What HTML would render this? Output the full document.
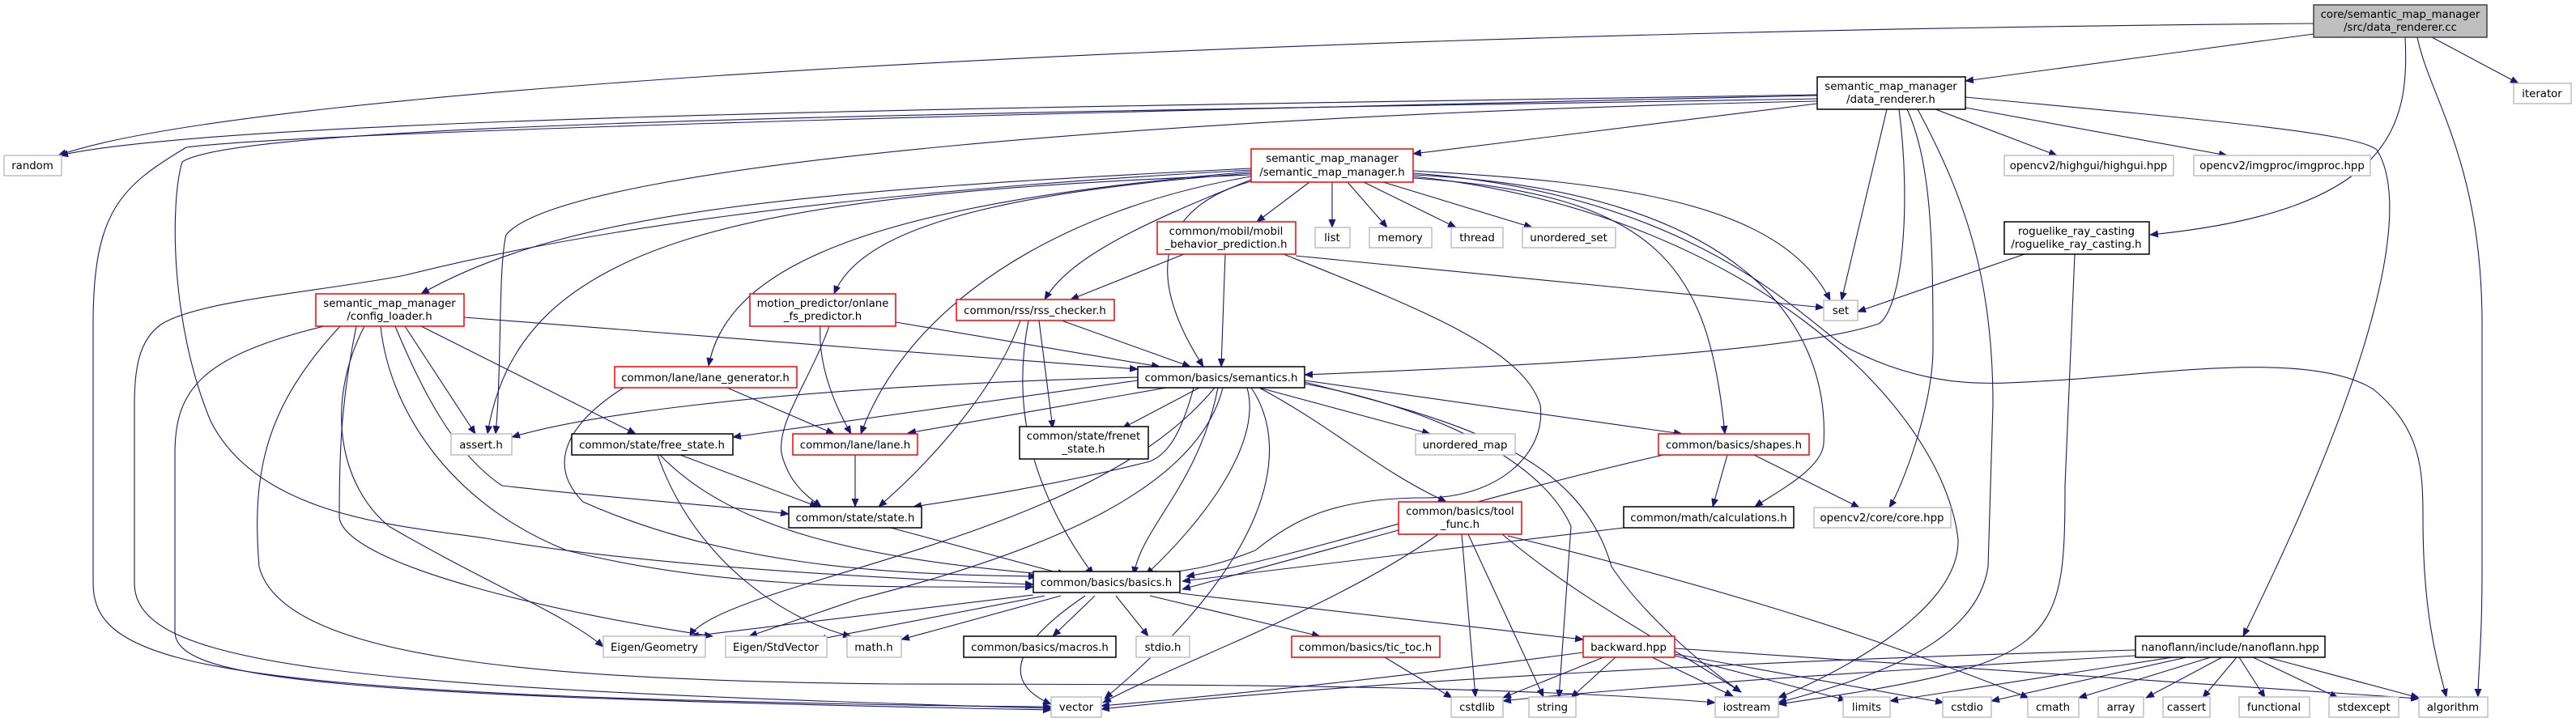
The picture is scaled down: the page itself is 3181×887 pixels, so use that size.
<!DOCTYPE html>
<html><head><meta charset="utf-8"><style>
html,body{margin:0;padding:0;background:#fff;width:3181px;height:887px;overflow:hidden}
svg text{font-family:"DejaVu Sans","Liberation Sans",sans-serif;font-size:13.3px;fill:#000}
</style></head><body>
<svg width="3181" height="887" viewBox="0 0 3181 887" xmlns="http://www.w3.org/2000/svg">
<defs><marker id="a" markerWidth="11" markerHeight="9" refX="10" refY="4.5" orient="auto" markerUnits="userSpaceOnUse"><path d="M0,0 L11,4.5 L0,9 z" fill="#191970"/></marker></defs>
<g fill="none" stroke="#191970" stroke-width="1.1" marker-end="url(#a)">
<path d="M2857,42 L2427,100"/>
<path d="M2857,29 C1500,40 300,110 72,192"/>
<path d="M3003,46 L3110,103"/>
<path d="M2970,46 C2975,150 2960,260 2655,290"/>
<path d="M2985,46 C3000,120 3065,200 3065,400 L3065,700 C3065,800 3060,830 3060,861"/>
<path d="M2500,314 L2294,385"/>
<path d="M2562,314 L2550,600 C2550,800 2540,820 2196,870"/>
<path d="M2244,117 C1500,130 300,140 74,192"/>
<path d="M2390,135 L2540,192"/>
<path d="M2427,133 L2750,192"/>
<path d="M2330,135 L2274,371"/>
<path d="M2244,128 L1745,190"/>
<path d="M2427,120 C2750,150 2910,165 2935,185 C2970,240 2960,400 2770,786"/>
<path d="M2355,135 C2385,200 2387,300 2387,430 C2387,500 2350,600 2333,627"/>
<path d="M2368,135 C2430,250 2461,350 2461,500 L2455,700 C2440,800 2300,840 2196,868"/>
<path d="M2345,135 C2360,250 2350,380 2320,400 C2200,440 1800,455 1611,463"/>
<path d="M2244,125 C1500,140 700,200 625,290 C615,330 620,450 612,536"/>
<path d="M2244,122 C1200,140 300,150 225,200 C210,250 210,400 260,520 C320,640 500,650 600,665 C800,700 1100,715 1276,722"/>
<path d="M2244,118 C1500,135 400,160 230,182 C150,230 115,260 115,400 L115,720 C115,800 200,840 700,860 C900,868 1200,873 1298,873"/>
<path d="M1545,210 C1000,240 700,290 500,340 C400,360 250,370 200,400 C170,420 166,460 166,500 L166,720 C166,820 400,850 1298,875"/>
<path d="M400,403 C250,440 216,480 216,560 L216,780 C216,840 400,860 1298,877"/>
<path d="M420,403 C330,500 310,580 320,700 C350,820 700,840 1100,845 C1600,845 1900,850 2118,868"/>
<path d="M1617,225 L1552,274"/>
<path d="M1645,225 L1645,281"/>
<path d="M1664,225 L1713,281"/>
<path d="M1684,225 L1798,281"/>
<path d="M1708,225 L1892,281"/>
<path d="M1545,222 C1400,280 1320,320 1290,370"/>
<path d="M1545,224 C1450,250 1400,320 1486,453"/>
<path d="M1545,208 C1000,235 700,260 520,363"/>
<path d="M1545,214 C1200,240 1060,290 1030,363"/>
<path d="M1545,212 C1100,250 900,320 875,452"/>
<path d="M1545,218 C1300,260 1120,380 1063,536"/>
<path d="M1745,220 C2050,240 2110,330 2130,536"/>
<path d="M1745,216 C2150,235 2260,400 2252,548 C2250,580 2190,610 2167,626"/>
<path d="M1745,211 C2000,225 2200,250 2260,371"/>
<path d="M1745,214 C2100,240 2230,400 2282,430 C2380,480 2450,475 2519,471 C2650,465 2850,430 2931,481 C2990,530 2992,580 2992,640 C2992,760 3010,820 3021,861"/>
<path d="M1745,218 C2150,260 2400,500 2418,667 C2420,760 2250,840 2196,862"/>
<path d="M1545,216 C900,240 640,300 602,536"/>
<path d="M573,392 L1060,430 L1405,456"/>
<path d="M500,403 L587,536"/>
<path d="M520,403 L785,536"/>
<path d="M488,403 C520,480 560,560 620,600 C800,620 900,625 974,635"/>
<path d="M470,403 C480,500 550,620 700,680 C900,730 1100,725 1276,725"/>
<path d="M450,403 C400,500 420,600 480,650 C600,720 700,760 745,799"/>
<path d="M440,403 C420,500 419,570 419,640 C430,700 700,760 880,786"/>
<path d="M1106,398 L1432,453"/>
<path d="M1013,403 C1010,450 1030,500 1051,536"/>
<path d="M1024,403 C1000,470 960,520 965,560 C975,600 1000,615 1014,626"/>
<path d="M1311,396 L1470,453"/>
<path d="M1283,396 L1300,529"/>
<path d="M1260,396 C1230,480 1150,570 1085,626"/>
<path d="M1270,396 C1250,500 1270,600 1350,710"/>
<path d="M1462,314 L1322,370"/>
<path d="M1513,314 L1508,453"/>
<path d="M1600,316 L2252,380"/>
<path d="M1585,314 C1750,380 1880,430 1902,500 C1910,560 1850,615 1760,615 C1650,615 1600,640 1550,680 C1500,700 1470,705 1418,710"/>
<path d="M898,479 L1030,536"/>
<path d="M770,479 C690,530 680,580 720,620 C900,700 1100,710 1280,712"/>
<path d="M840,562 L1010,626"/>
<path d="M815,562 C900,650 1050,690 1300,710"/>
<path d="M812,562 C860,700 980,770 1051,786"/>
<path d="M1056,562 L1056,626"/>
<path d="M1100,652 L1316,710"/>
<path d="M1481,479 L1386,529"/>
<path d="M1440,479 L1121,535"/>
<path d="M1405,470 L905,540"/>
<path d="M1405,466 C900,480 700,520 632,540"/>
<path d="M1474,479 C1460,530 1445,560 1420,570 C1300,600 1200,615 1128,626"/>
<path d="M1504,479 C1480,600 1410,650 1400,710"/>
<path d="M1540,479 C1560,550 1480,650 1415,710"/>
<path d="M1555,479 L1766,536"/>
<path d="M1555,479 C1650,530 1700,580 1786,620"/>
<path d="M1611,470 L2077,536"/>
<path d="M1500,479 C1400,600 1200,660 1000,720 C900,750 860,770 852,786"/>
<path d="M1510,479 C1480,600 1300,680 1060,740 L925,786"/>
<path d="M1545,479 C1600,560 1560,700 1364,863"/>
<path d="M1611,474 C1750,500 1900,560 1940,650 L1925,862"/>
<path d="M1611,472 C1800,520 1950,560 1990,700 C2030,760 2100,820 2150,855"/>
<path d="M1727,655 L1460,728"/>
<path d="M1776,660 C1650,750 1450,820 1362,868"/>
<path d="M1805,660 L1822,861"/>
<path d="M1813,660 L1906,861"/>
<path d="M1855,660 C1950,740 2050,790 2150,855"/>
<path d="M1862,662 C2100,720 2300,780 2505,862"/>
<path d="M2054,562 C1800,620 1600,690 1465,712"/>
<path d="M2133,562 L2115,626"/>
<path d="M2166,562 L2296,627"/>
<path d="M2005,652 L1460,718"/>
<path d="M1276,735 L853,786"/>
<path d="M1290,736 L1010,790"/>
<path d="M1310,736 L1113,790"/>
<path d="M1352,736 L1300,786"/>
<path d="M1378,736 L1418,786"/>
<path d="M1420,736 L1630,786"/>
<path d="M1457,733 L1955,790"/>
<path d="M1340,736 C1260,790 1230,840 1298,870"/>
<path d="M1710,812 L1793,862"/>
<path d="M1955,806 C1700,840 1500,860 1360,872"/>
<path d="M1980,812 L1856,862"/>
<path d="M1995,812 L1940,862"/>
<path d="M2040,812 L2140,860"/>
<path d="M2068,810 L2280,865"/>
<path d="M2068,808 L2400,868"/>
<path d="M2068,801 L2987,863"/>
<path d="M2637,803 C2200,815 1700,840 1360,876"/>
<path d="M2637,810 C2300,830 2000,850 1856,866"/>
<path d="M2683,812 L2334,866"/>
<path d="M2700,812 L2459,866"/>
<path d="M2730,812 L2567,862"/>
<path d="M2744,812 L2650,862"/>
<path d="M2762,812 L2720,862"/>
<path d="M2765,812 L2797,862"/>
<path d="M2782,812 L2887,862"/>
<path d="M2800,812 L2987,862"/>
</g>
<g stroke-width="1.5" fill="#fff">
<rect x="2857" y="6" width="214" height="40" fill="#bfbfbf" stroke="#404040"/>
<rect x="2244" y="95" width="183" height="40" stroke="#000"/>
<rect x="3104" y="103" width="71" height="25" stroke="#bfbfbf"/>
<rect x="2475" y="192" width="209" height="25" stroke="#bfbfbf"/>
<rect x="2709" y="192" width="218" height="25" stroke="#bfbfbf"/>
<rect x="2475" y="274" width="179" height="40" stroke="#000"/>
<rect x="2252" y="371" width="42" height="25" stroke="#bfbfbf"/>
<rect x="5" y="192" width="71" height="25" stroke="#bfbfbf"/>
<rect x="390" y="363" width="183" height="40" stroke="#ff0000"/>
<rect x="926" y="363" width="180" height="40" stroke="#ff0000"/>
<rect x="1545" y="184" width="200" height="41" stroke="#ff0000"/>
<rect x="1429" y="274" width="171" height="40" stroke="#ff0000"/>
<rect x="1624" y="281" width="43" height="25" stroke="#bfbfbf"/>
<rect x="1691" y="281" width="77" height="25" stroke="#bfbfbf"/>
<rect x="1792" y="281" width="64" height="25" stroke="#bfbfbf"/>
<rect x="1880" y="281" width="115" height="25" stroke="#bfbfbf"/>
<rect x="1181" y="370" width="195" height="26" stroke="#ff0000"/>
<rect x="759" y="453" width="225" height="26" stroke="#ff0000"/>
<rect x="557" y="536" width="75" height="26" stroke="#bfbfbf"/>
<rect x="706" y="536" width="199" height="26" stroke="#000"/>
<rect x="979" y="536" width="154" height="26" stroke="#ff0000"/>
<rect x="974" y="626" width="164" height="26" stroke="#000"/>
<rect x="745" y="786" width="126" height="26" stroke="#bfbfbf"/>
<rect x="896" y="786" width="125" height="26" stroke="#bfbfbf"/>
<rect x="1046" y="786" width="67" height="26" stroke="#bfbfbf"/>
<rect x="1405" y="453" width="206" height="26" stroke="#000"/>
<rect x="1259" y="527" width="159" height="40" stroke="#000"/>
<rect x="1748" y="536" width="123" height="26" stroke="#bfbfbf"/>
<rect x="2048" y="536" width="186" height="26" stroke="#ff0000"/>
<rect x="1727" y="620" width="152" height="40" stroke="#ff0000"/>
<rect x="2005" y="626" width="210" height="26" stroke="#000"/>
<rect x="2240" y="627" width="169" height="25" stroke="#bfbfbf"/>
<rect x="1276" y="706" width="181" height="26" stroke="#000"/>
<rect x="1190" y="786" width="188" height="26" stroke="#000"/>
<rect x="1403" y="786" width="66" height="26" stroke="#bfbfbf"/>
<rect x="1595" y="786" width="183" height="26" stroke="#ff0000"/>
<rect x="1955" y="786" width="113" height="26" stroke="#ff0000"/>
<rect x="1298" y="861" width="62" height="25" stroke="#bfbfbf"/>
<rect x="1792" y="861" width="64" height="25" stroke="#bfbfbf"/>
<rect x="1888" y="861" width="58" height="25" stroke="#bfbfbf"/>
<rect x="2637" y="786" width="234" height="26" stroke="#000"/>
<rect x="2118" y="861" width="78" height="25" stroke="#bfbfbf"/>
<rect x="2276" y="861" width="58" height="25" stroke="#bfbfbf"/>
<rect x="2399" y="861" width="60" height="25" stroke="#bfbfbf"/>
<rect x="2504" y="861" width="63" height="25" stroke="#bfbfbf"/>
<rect x="2591" y="861" width="56" height="25" stroke="#bfbfbf"/>
<rect x="2671" y="861" width="58" height="25" stroke="#bfbfbf"/>
<rect x="2765" y="861" width="87" height="25" stroke="#bfbfbf"/>
<rect x="2876" y="861" width="86" height="25" stroke="#bfbfbf"/>
<rect x="2987" y="861" width="85" height="25" stroke="#bfbfbf"/>
</g>
<g text-anchor="middle">
<text x="2964" y="22">core/semantic_map_manager</text><text x="2964" y="38">/src/data_renderer.cc</text>
<text x="2335" y="111">semantic_map_manager</text><text x="2335" y="127">/data_renderer.h</text>
<text x="3139" y="120">iterator</text>
<text x="2579" y="209">opencv2/highgui/highgui.hpp</text>
<text x="2818" y="209">opencv2/imgproc/imgproc.hpp</text>
<text x="2564" y="290">roguelike_ray_casting</text><text x="2564" y="306">/roguelike_ray_casting.h</text>
<text x="2273" y="388">set</text>
<text x="40" y="209">random</text>
<text x="481" y="379">semantic_map_manager</text><text x="481" y="395">/config_loader.h</text>
<text x="1016" y="379">motion_predictor/onlane</text><text x="1016" y="395">_fs_predictor.h</text>
<text x="1645" y="200">semantic_map_manager</text><text x="1645" y="217">/semantic_map_manager.h</text>
<text x="1514" y="290">common/mobil/mobil</text><text x="1514" y="306">_behavior_prediction.h</text>
<text x="1645" y="298">list</text>
<text x="1729" y="298">memory</text>
<text x="1824" y="298">thread</text>
<text x="1937" y="298">unordered_set</text>
<text x="1278" y="388">common/rss/rss_checker.h</text>
<text x="871" y="471">common/lane/lane_generator.h</text>
<text x="594" y="554">assert.h</text>
<text x="805" y="554">common/state/free_state.h</text>
<text x="1056" y="554">common/lane/lane.h</text>
<text x="1056" y="644">common/state/state.h</text>
<text x="808" y="804">Eigen/Geometry</text>
<text x="958" y="804">Eigen/StdVector</text>
<text x="1079" y="804">math.h</text>
<text x="1508" y="471">common/basics/semantics.h</text>
<text x="1338" y="543">common/state/frenet</text><text x="1338" y="559">_state.h</text>
<text x="1809" y="554">unordered_map</text>
<text x="2141" y="554">common/basics/shapes.h</text>
<text x="1803" y="636">common/basics/tool</text><text x="1803" y="652">_func.h</text>
<text x="2110" y="644">common/math/calculations.h</text>
<text x="2324" y="644">opencv2/core/core.hpp</text>
<text x="1366" y="724">common/basics/basics.h</text>
<text x="1284" y="804">common/basics/macros.h</text>
<text x="1436" y="804">stdio.h</text>
<text x="1686" y="804">common/basics/tic_toc.h</text>
<text x="2011" y="804">backward.hpp</text>
<text x="1329" y="878">vector</text>
<text x="1824" y="878">cstdlib</text>
<text x="1917" y="878">string</text>
<text x="2754" y="804">nanoflann/include/nanoflann.hpp</text>
<text x="2157" y="878">iostream</text>
<text x="2305" y="878">limits</text>
<text x="2429" y="878">cstdio</text>
<text x="2535" y="878">cmath</text>
<text x="2619" y="878">array</text>
<text x="2700" y="878">cassert</text>
<text x="2808" y="878">functional</text>
<text x="2919" y="878">stdexcept</text>
<text x="3029" y="878">algorithm</text>
</g>
</svg>
</body></html>
